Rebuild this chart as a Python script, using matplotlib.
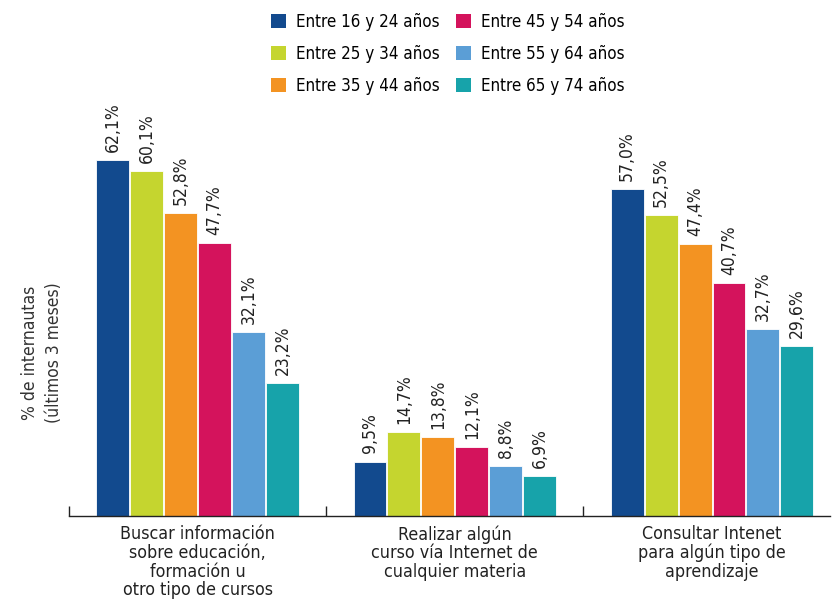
import matplotlib
matplotlib.use("Agg")
import matplotlib.pyplot as plt
import numpy as np
from matplotlib.patches import Patch

# data
categorias = ["Buscar información\nsobre educación,\nformación u\notro tipo de cursos",
              "Realizar algún\ncurso vía Internet de\ncualquier materia",
              "Consultar Intenet\npara algún tipo de\naprendizaje"]
edades = ["Entre 16 y 24 años", "Entre 25 y 34 años", "Entre 35 y 44 años",
          "Entre 45 y 54 años", "Entre 55 y 64 años", "Entre 65 y 74 años"]
v_16_24 = [62.1, 9.5, 57.0]
v_25_34 = [60.1, 14.7, 52.5]
v_35_44 = [52.8, 13.8, 47.4]
v_45_54 = [47.7, 12.1, 40.7]
v_55_64 = [32.1, 8.8, 32.7]
v_65_74 = [23.2, 6.9, 29.6]
colores = ["#124a8e", "#c5d52f", "#f39322", "#d4135c", "#5b9ed6", "#17a3aa"]

series = [v_16_24, v_25_34, v_35_44, v_45_54, v_55_64, v_65_74]

plt.rcParams['font.family'] = ['DejaVu Sans']
plt.rcParams['font.stretch'] = 'condensed'

fig = plt.figure(figsize=(8.32, 5.99), dpi=100)
ax = fig.add_axes([0.083, 0.1386, 0.915, 0.689])

x = np.arange(len(categorias))
paso = 0.132
ancho = 0.128
for i, vals in enumerate(series):
    pos = x + (i - 2.5) * paso
    bars = ax.bar(pos, vals, ancho, color=colores[i], edgecolor="white", linewidth=0.6)
    for b, v in zip(bars, vals):
        ax.text(b.get_x() + b.get_width() / 2, v + 1.4,
                ("%.1f%%" % v).replace(".", ","), rotation=90,
                ha="center", va="bottom", fontsize=12.5, color="#222222")

ax.set_xlim(-0.5, 2.46)
ax.set_ylim(0, 72)
ax.set_yticks([])
for s in ["left", "right", "top"]:
    ax.spines[s].set_visible(False)
ax.spines["bottom"].set_color("#222222")
ax.spines["bottom"].set_linewidth(1.0)

ax.set_xticks([-0.5, 0.5, 1.5])
ax.set_xticklabels([])
ax.tick_params(axis="x", direction="in", length=7, width=1.0, color="#222222")
for xi, lab in zip(x, categorias):
    ax.text(xi, -1.6, lab, ha="center", va="top", fontsize=12.8,
            color="#222222", linespacing=1.05)

ax.set_ylabel("% de internautas\n(últimos 3 meses)", fontsize=12.5, color="#333333",
              linespacing=1.45)
ax.yaxis.set_label_coords(-0.008, 0.395)

handles = [Patch(facecolor=c, edgecolor="none") for c in colores]
fig.legend(handles, edades, ncol=2, loc="center", bbox_to_anchor=(0.5385, 0.91),
           frameon=False, fontsize=12.2, handlelength=0.88, handleheight=0.88,
           handletextpad=0.6, columnspacing=0.95, labelspacing=0.84)

fig.savefig("out.png", dpi=100)
